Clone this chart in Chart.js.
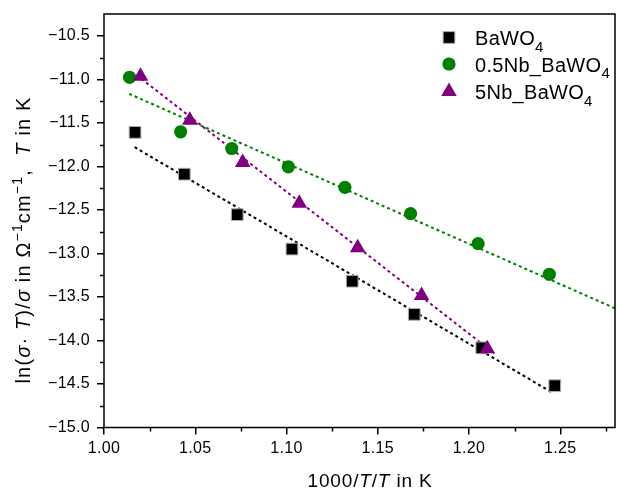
<!DOCTYPE html>
<html>
<head>
<meta charset="utf-8">
<script src="https://cdn.jsdelivr.net/npm/chart.js@4.4.1/dist/chart.umd.min.js"></script>
<style>
  html, body { margin: 0; background: #fff; }
  #wrap { width: 617px; height: 492px; }
</style>
</head>
<body>
<div id="wrap"><canvas id="c"></canvas></div>
<script>
const FONT = '"Liberation Sans", Arial, Helvetica, sans-serif';

// series
const seriesNames = ['BaWO4', '0.5Nb_BaWO4', '5Nb_BaWO4'];
const seriesColors = ['#000000', '#008000', '#800080'];

const bawoX = [1.017, 1.044, 1.073, 1.103, 1.136, 1.170, 1.207, 1.247];
const bawoY = [-11.61, -12.09, -12.555, -12.95, -13.32, -13.70, -14.085, -14.52];

const nb05X = [1.014, 1.042, 1.070, 1.101, 1.132, 1.168, 1.205, 1.244];
const nb05Y = [-10.977, -11.603, -11.795, -12.005, -12.242, -12.544, -12.888, -13.24];

const nb5X = [1.020, 1.047, 1.076, 1.107, 1.139, 1.174, 1.210];
const nb5Y = [-10.965, -11.47, -11.955, -12.425, -12.935, -13.485, -14.095];

// dashed fit lines, end points
const fitBawoX = [1.0168, 1.2457];
const fitBawoY = [-11.78, -14.60];
const fitNb05X = [1.0138, 1.28];
const fitNb05Y = [-11.167, -13.631];
const fitNb5X = [1.0205, 1.2139];
const fitNb5Y = [-10.995, -14.149];

// minor tick positions
const xMinor = [1.025, 1.075, 1.125, 1.175, 1.225, 1.275];
const yMinor = [-14.75, -14.25, -13.75, -13.25, -12.75, -12.25, -11.75, -11.25, -10.75];

const pts = (xs, ys) => xs.map((x, i) => ({ x: x, y: ys[i] }));

function segFont(seg, size) {
  const s = (seg.sup || seg.sub) ? Math.round(size * 0.7) : size;
  return (seg.it ? 'italic ' : '') + s + 'px ' + FONT;
}

// rich text with italics / super- and subscripts, stretched to a given length
function drawRich(ctx, segs, cx, cy, rot, size, target) {
  ctx.save();
  ctx.letterSpacing = '0px';
  let w = 0, n = 0;
  segs.forEach(s => { ctx.font = segFont(s, size); w += ctx.measureText(s.t).width; n += s.t.length; });
  const sp = target ? Math.max(0, (target - w) / n) : 0;
  ctx.letterSpacing = sp + 'px';
  w = 0;
  segs.forEach(s => { ctx.font = segFont(s, size); w += ctx.measureText(s.t).width; });
  ctx.translate(cx, cy);
  ctx.rotate(rot);
  ctx.fillStyle = '#000';
  ctx.textBaseline = 'alphabetic';
  ctx.textAlign = 'left';
  let x = -w / 2;
  const base = size * 0.36;
  segs.forEach(s => {
    ctx.font = segFont(s, size);
    let y = base;
    if (s.sup) y -= size * 0.4;
    if (s.sub) y += size * 0.3;
    ctx.fillText(s.t, x, y);
    x += ctx.measureText(s.t).width;
  });
  ctx.restore();
}

const decor = {
  id: 'decor',
  beforeDraw(chart) {
    chart.ctx.letterSpacing = '0.3px';
  },
  afterDraw(chart) {
    const { ctx, chartArea: a, scales: { x, y } } = chart;
    ctx.save();
    ctx.letterSpacing = '0px';
    ctx.strokeStyle = '#000';
    ctx.lineWidth = 1.5;
    ctx.beginPath();
    xMinor.forEach(v => {
      const px = Math.round(x.getPixelForValue(v)) + 0.5;
      ctx.moveTo(px, a.bottom); ctx.lineTo(px, a.bottom + 4);
    });
    yMinor.forEach(v => {
      const py = Math.round(y.getPixelForValue(v)) + 0.5;
      ctx.moveTo(a.left, py); ctx.lineTo(a.left - 4, py);
    });
    ctx.stroke();
    ctx.strokeRect(a.left, a.top, a.right - a.left, a.bottom - a.top);
    ctx.restore();

    // axis titles
    drawRich(ctx, [
      { t: '1000/' }, { t: 'T', it: true }, { t: '/' }, { t: 'T', it: true }, { t: ' in K' }
    ], 370, 480, 0, 19, 125);
    drawRich(ctx, [
      { t: 'ln(' }, { t: 'σ', it: true }, { t: '· ' }, { t: 'T', it: true }, { t: ')/' },
      { t: 'σ', it: true }, { t: ' in Ω' }, { t: '−1', sup: true }, { t: 'cm' }, { t: '−1', sup: true },
      { t: ',  ' }, { t: 'T', it: true }, { t: ' in K' }
    ], 23, 240, -Math.PI / 2, 20, 287);

    // legend
    const rows = [37.5, 64, 91.5];
    seriesNames.forEach((name, i) => {
      const ds = chart.data.datasets.find(d => d.label === name);
      ctx.save();
      ctx.fillStyle = ds.backgroundColor;
      ctx.strokeStyle = ds.borderColor;
      ctx.lineWidth = ds.borderWidth;
      Chart.helpers.drawPoint(ctx, {
        pointStyle: ds.pointStyle, radius: ds.pointRadius, rotation: 0, borderWidth: ds.borderWidth
      }, 449, rows[i]);
      ctx.restore();
      const main = name.slice(0, -1), sub = name.slice(-1);
      ctx.save();
      ctx.letterSpacing = '0.3px';
      ctx.fillStyle = '#000';
      ctx.textBaseline = 'alphabetic';
      ctx.font = '20px ' + FONT;
      const by = rows[i] + 7.5;
      ctx.fillText(main, 475, by);
      const mw = ctx.measureText(main).width;
      ctx.font = '15px ' + FONT;
      ctx.fillText(sub, 475 + mw, by + 6.5);
      ctx.restore();
    });
  }
};

const fitLine = (label, xs, ys, color) => ({
  label: label, data: pts(xs, ys), showLine: true, borderColor: color,
  borderWidth: 2, borderDash: [3, 3], pointRadius: 0, fill: false, order: 10
});

new Chart(document.getElementById('c'), {
  type: 'scatter',
  data: {
    datasets: [
      { label: seriesNames[0], data: pts(bawoX, bawoY), pointStyle: 'rect', pointRadius: 8.3,
        backgroundColor: seriesColors[0], borderColor: '#b0b0b0', borderWidth: 1, order: 3 },
      { label: seriesNames[1], data: pts(nb05X, nb05Y), pointStyle: 'circle', pointRadius: 6.6,
        backgroundColor: seriesColors[1], borderColor: seriesColors[1], borderWidth: 0, order: 2 },
      { label: seriesNames[2], data: pts(nb5X, nb5Y), pointStyle: 'triangle', pointRadius: 9,
        backgroundColor: seriesColors[2], borderColor: seriesColors[2], borderWidth: 0, order: 1 },
      fitLine('fit BaWO4', fitBawoX, fitBawoY, seriesColors[0]),
      fitLine('fit 0.5Nb', fitNb05X, fitNb05Y, seriesColors[1]),
      fitLine('fit 5Nb', fitNb5X, fitNb5Y, seriesColors[2])
    ]
  },
  options: {
    responsive: true,
    maintainAspectRatio: false,
    animation: false,
    layout: { autoPadding: false, padding: { top: 14, right: 2, left: 0, bottom: 0 } },
    plugins: { legend: { display: false }, tooltip: { enabled: false } },
    scales: {
      x: {
        type: 'linear', min: 1.0, max: 1.28,
        afterFit(s) { s.height = 64.5; s.paddingLeft = 0; s.paddingRight = 0; },
        border: { display: false },
        grid: { drawOnChartArea: false, drawTicks: true, tickLength: 7, color: '#000', lineWidth: 1.5 },
        ticks: {
          stepSize: 0.05, includeBounds: false, maxRotation: 0, autoSkip: false, padding: 4,
          color: '#000', font: { family: FONT, size: 16 },
          callback: v => v.toFixed(2)
        }
      },
      y: {
        type: 'linear', min: -15, max: -10.25,
        afterFit(s) { s.width = 104; s.paddingTop = 0; s.paddingBottom = 0; },
        border: { display: false },
        grid: { drawOnChartArea: false, drawTicks: true, tickLength: 7, color: '#000', lineWidth: 1.5 },
        ticks: {
          stepSize: 0.5, includeBounds: false, padding: 7,
          color: '#000', font: { family: FONT, size: 16 },
          callback: v => (v < 0 ? '−' : '') + Math.abs(v).toFixed(1)
        }
      }
    }
  },
  plugins: [decor]
});
</script>
</body>
</html>
